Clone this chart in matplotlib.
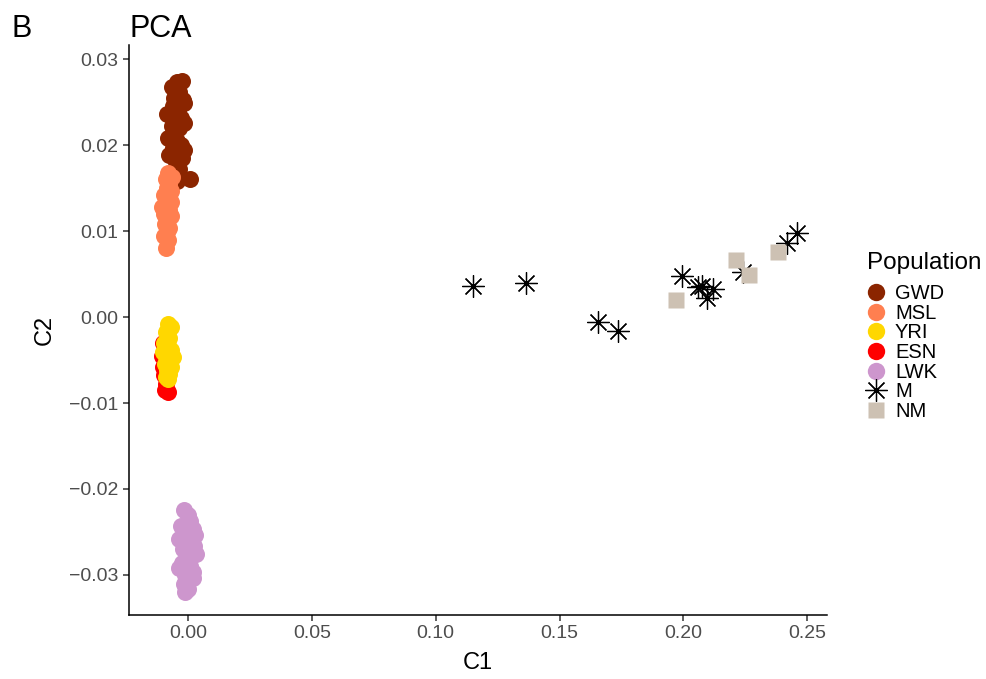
import numpy as np
import matplotlib.pyplot as plt
from matplotlib.lines import Line2D

plt.rcParams["font.family"] = ["Liberation Sans", "DejaVu Sans"]

# PCA coordinates
gwd_x = [-0.0045, -0.0025, -0.0065, -0.0035, -0.0055, -0.0020, -0.0016, -0.0060, -0.0040,
         -0.0085, -0.0030, -0.0050, -0.0065, -0.0035, -0.0018, -0.0055, -0.0080, -0.0045,
         -0.0030, -0.0060, -0.0016, -0.0040, -0.0075, -0.0025, -0.0050, -0.0035, -0.0055,
         -0.0045, 0.0008]
gwd_y = [0.0273, 0.0275, 0.0268, 0.0262, 0.0255, 0.0252, 0.0249, 0.0245, 0.0240,
         0.0236, 0.0232, 0.0228, 0.0222, 0.0220, 0.0226, 0.0212, 0.0208, 0.0205,
         0.0200, 0.0196, 0.0194, 0.0190, 0.0188, 0.0185, 0.0180, 0.0172, 0.0165,
         0.0158, 0.0161]

msl_x = [-0.0080, -0.0065, -0.0090, -0.0075, -0.0085, -0.0070, -0.0095, -0.0080, -0.0068,
         -0.0090, -0.0105, -0.0078, -0.0095, -0.0070, -0.0085, -0.0092, -0.0075, -0.0085,
         -0.0095, -0.0080, -0.0088]
msl_y = [0.0168, 0.0163, 0.0160, 0.0155, 0.0150, 0.0146, 0.0142, 0.0138, 0.0134,
         0.0130, 0.0128, 0.0125, 0.0120, 0.0117, 0.0113, 0.0108, 0.0104, 0.0099,
         0.0094, 0.0090, 0.0080]

esn_x = [-0.0100, -0.0105, -0.0100, -0.0095, -0.0088, -0.0092, -0.0080, -0.0085, -0.0090]
esn_y = [-0.0030, -0.0045, -0.0058, -0.0068, -0.0078, -0.0085, -0.0087, -0.0040, -0.0050]

yri_x = [-0.0080, -0.0070, -0.0090, -0.0075, -0.0095, -0.0082, -0.0068, -0.0100, -0.0088,
         -0.0060, -0.0078, -0.0093, -0.0070, -0.0085, -0.0075, -0.0090, -0.0080]
yri_y = [-0.0008, -0.0012, -0.0018, -0.0024, -0.0030, -0.0034, -0.0038, -0.0041, -0.0045,
         -0.0047, -0.0050, -0.0055, -0.0058, -0.0062, -0.0066, -0.0070, -0.0072]

lwk_x = [-0.0015, 0.0000, 0.0010, -0.0030, 0.0020, -0.0010, 0.0030, -0.0035, 0.0005,
         0.0025, -0.0020, 0.0015, 0.0032, -0.0005, -0.0025, 0.0010, -0.0035, 0.0020,
         -0.0010, 0.0020, -0.0015, 0.0000, -0.0010]
lwk_y = [-0.0224, -0.0230, -0.0237, -0.0243, -0.0246, -0.0250, -0.0254, -0.0258, -0.0261,
         -0.0266, -0.0270, -0.0274, -0.0276, -0.0280, -0.0286, -0.0289, -0.0292, -0.0296,
         -0.0300, -0.0303, -0.0310, -0.0316, -0.0320]

m_x = [0.1151, 0.1365, 0.1656, 0.1737, 0.1995, 0.2060, 0.2076, 0.2120, 0.2096, 0.2242,
       0.2419, 0.2460]
m_y = [0.0036, 0.0040, -0.0006, -0.0016, 0.0048, 0.0035, 0.0036, 0.0033, 0.0022, 0.0052,
       0.0086, 0.0098]

nm_x = [0.1971, 0.2213, 0.2266, 0.2383]
nm_y = [0.0020, 0.0066, 0.0049, 0.0076]

x_ticks = [0.00, 0.05, 0.10, 0.15, 0.20, 0.25]
x_labels = ["0.00", "0.05", "0.10", "0.15", "0.20", "0.25"]
y_ticks = [-0.03, -0.02, -0.01, 0.00, 0.01, 0.02, 0.03]
y_labels = ["\u22120.03", "\u22120.02", "\u22120.01", "0.00", "0.01", "0.02", "0.03"]

cols = {"GWD": "#8B2500", "MSL": "#FF7F50", "YRI": "#FFD700", "ESN": "#FF0000",
        "LWK": "#CD96CD", "M": "black", "NM": "#CDC1B3"}

fig = plt.figure(figsize=(9.87, 6.79), dpi=100)
ax = fig.add_axes([0.1307, 0.0943, 0.7073, 0.8394])

s_dot = 150
ax.scatter(esn_x, esn_y, s=s_dot, c=cols["ESN"], linewidths=0)
ax.scatter(gwd_x, gwd_y, s=s_dot, c=cols["GWD"], linewidths=0)
ax.scatter(lwk_x, lwk_y, s=s_dot, c=cols["LWK"], linewidths=0)
ax.scatter(msl_x, msl_y, s=s_dot, c=cols["MSL"], linewidths=0)
ax.scatter(yri_x, yri_y, s=s_dot, c=cols["YRI"], linewidths=0)
ax.plot(m_x, m_y, ls="none", marker=(8, 2, 0), ms=16, mec="black", mew=0.9)
ax.plot(nm_x, nm_y, ls="none", marker="s", ms=11.5, mfc=cols["NM"], mec="none")

ax.set_xlim(-0.0238, 0.258)
ax.set_ylim(-0.03465, 0.03163)
ax.set_xticks(x_ticks)
ax.set_xticklabels(x_labels)
ax.set_yticks(y_ticks)
ax.set_yticklabels(y_labels)
ax.tick_params(labelsize=14, labelcolor="#4D4D4D", color="#333333", length=4, width=1.1)

for side in ["top", "right"]:
    ax.spines[side].set_visible(False)
for side in ["left", "bottom"]:
    ax.spines[side].set_linewidth(1.1)

ax.set_xlabel("C1", fontsize=17, labelpad=7)
ax.set_ylabel("C2", fontsize=17, labelpad=10)

fig.text(0.1317, 0.957, "PCA", fontsize=22, va="center", ha="left")
fig.text(0.012, 0.957, "B", fontsize=22, va="center", ha="left")

handles = []
for name in ["GWD", "MSL", "YRI", "ESN", "LWK"]:
    handles.append(Line2D([], [], ls="none", marker="o", ms=12.5, mfc=cols[name], mec="none", label=name))
handles.append(Line2D([], [], ls="none", marker=(8, 2, 0), ms=16, mec="black", mew=0.9, label="M"))
handles.append(Line2D([], [], ls="none", marker="s", ms=11.5, mfc=cols["NM"], mec="none", label="NM"))

leg = fig.legend(handles=handles, title="Population", loc="upper left",
                 bbox_to_anchor=(0.868, 0.643), frameon=False, fontsize=14.5,
                 title_fontsize=17.5, handlelength=0.9, handletextpad=0.5,
                 labelspacing=0.03, borderpad=0)
leg._legend_box.align = "left"
leg._legend_box.sep = 7

fig.savefig("out.png", dpi=100)
